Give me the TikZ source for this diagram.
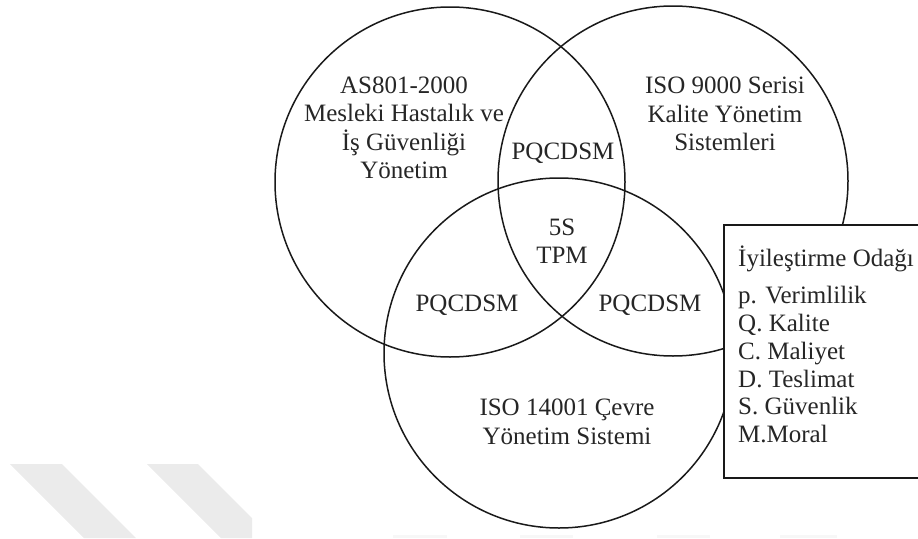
\documentclass[tikz,border=0pt]{standalone}
\usepackage{fontspec}
\setmainfont{Liberation Serif}
\begin{document}
\begin{tikzpicture}[x=1pt,y=-1pt,
  ring/.style={draw=black!90,line width=1.5pt},
  lbl/.style={font=\fontsize{25}{28.5}\selectfont,align=center,inner sep=0pt,text=black!85},
  stripe/.style={fill=black!8,draw=none},
  faint/.style={fill=black!3,draw=none}]
\useasboundingbox (0,0) rectangle (918,538);
% watermark stripes
\fill[stripe] (10,464) -- (62,464) -- (136,538) -- (84,538) -- cycle;
\fill[stripe] (147,464) -- (198,464) -- (252,518) -- (252,538) -- (221,538) -- cycle;
\fill[faint] (393,535) rectangle (447,538);
\fill[faint] (520,535) rectangle (573,538);
\fill[faint] (657,535) rectangle (710,538);
\fill[faint] (780,535) rectangle (837,538);
% circles
\node[ring,circle,minimum size=350pt,inner sep=0pt] (c1) at (450,182) {};
\node[ring,circle,minimum size=350pt,inner sep=0pt] (c2) at (673,181) {};
\node[ring,circle,minimum size=350pt,inner sep=0pt] (c3) at (559,353) {};
% texts
\node[lbl] (t1) at (404,128) {AS801-2000\\Mesleki Hastalık ve\\İş Güvenliği\\Yönetim};
\node[lbl] (t2) at (725,114) {ISO 9000 Serisi\\Kalite Yönetim\\Sistemleri};
\node[lbl] (t3) at (567,422) {ISO 14001 Çevre\\Yönetim Sistemi};
\node[lbl] (p12) at (563,153) {PQCDSM};
\node[lbl] (p13) at (467,305) {PQCDSM};
\node[lbl] (p23) at (650,305) {PQCDSM};
\node[lbl] (core) at (562,241) {5S\\TPM};
% focus box
\fill[white] (724,225) rectangle (918,478);
\draw[line width=2pt,black!90] (918,225) -- (724,225) -- (724,478) -- (918,478);
\node[lbl,anchor=north west,align=left,font=\fontsize{25}{27.8}\selectfont] (box) at (738,246)
  {İyileştirme Odağı\\[9pt]p. Verimlilik\\Q. Kalite\\C. Maliyet\\D. Teslimat\\S. Güvenlik\\M.Moral};
\end{tikzpicture}
\end{document}
